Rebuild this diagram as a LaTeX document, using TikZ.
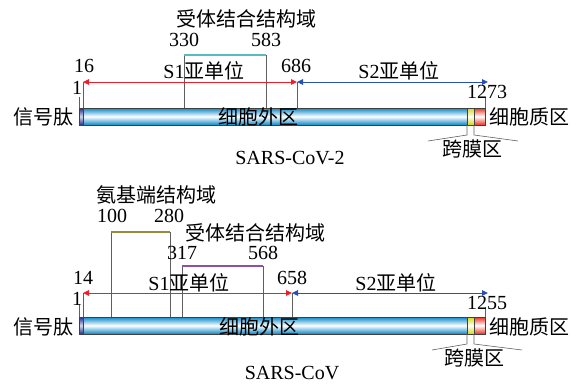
\documentclass[tikz,border=0pt]{standalone}
\usepackage{fontspec}
\setmainfont{Liberation Serif}
\newfontfamily\cjk{Noto Sans CJK SC}
\usetikzlibrary{arrows.meta}
\definecolor{barblue}{RGB}{10,135,200}
\definecolor{spblue}{RGB}{35,45,140}
\definecolor{tmyellow}{RGB}{215,215,10}
\definecolor{cytored}{RGB}{235,50,30}
\definecolor{arred}{RGB}{240,30,45}
\definecolor{arblue}{RGB}{40,80,180}
\definecolor{domteal}{RGB}{90,185,195}
\definecolor{domolive}{RGB}{150,140,60}
\definecolor{dompurple}{RGB}{140,80,170}
\definecolor{tickgray}{RGB}{95,95,95}
\begin{document}
\begin{tikzpicture}[x=1pt,y=-1pt,
  font=\fontsize{20}{24}\selectfont,
  lbl/.style={inner sep=0pt},
  tickline/.style={draw=tickgray, line width=0.7pt},
  segbox/.style={draw=black!75, line width=0.5pt},
  domline/.style={line width=1.1pt},
  arr/.style={line width=1pt, {Triangle[length=6pt,width=5.5pt]}-{Triangle[length=6pt,width=5.5pt]}},
  brk/.style={draw=tickgray, line width=0.6pt}]
\useasboundingbox (0,0) rectangle (583,386);

% ===== SARS-CoV-2 =====
\path[segbox, top color=barblue, bottom color=barblue, middle color=white] (83,108) rectangle (467,125);
\path[segbox, top color=spblue, bottom color=spblue, middle color=white!80!spblue] (79,108) rectangle (83,125);
\path[segbox, top color=tmyellow, bottom color=tmyellow, middle color=white] (467,108) rectangle (474,125);
\path[segbox, top color=cytored, bottom color=cytored, middle color=white] (474,108) rectangle (485,125);

\coordinate (a1t) at (79,97);   \coordinate (a1b) at (79,108);
\coordinate (a16t) at (83,82);  \coordinate (a16b) at (83,108);
\coordinate (a330t) at (184,55); \coordinate (a330b) at (184,108);
\coordinate (a583t) at (266,55); \coordinate (a583b) at (266,108);
\coordinate (a686t) at (297,82); \coordinate (a686b) at (297,108);
\coordinate (aendt) at (485,97); \coordinate (aendb) at (485,108);
\coordinate (as2end) at (488,82);
\coordinate (atmL) at (467,125); \coordinate (atmR) at (474,125);
\coordinate (atmLk) at (467,135); \coordinate (atmRk) at (474,135);
\coordinate (atmLe) at (428,141); \coordinate (atmRe) at (518,141);

\draw[tickline] (a1t) -- (a1b);
\draw[tickline] (a16t) -- (a16b);
\draw[tickline] (a330t) -- (a330b);
\draw[tickline] (a583t) -- (a583b);
\draw[tickline] (a686t) -- (a686b);
\draw[tickline] (aendt) -- (aendb);
\draw[domline, domteal] (a330t) -- (a583t);
\draw[arr, arred] (a16t) -- (a686t);
\draw[arr, arblue] (a686t) -- (as2end);
\draw[brk] (atmL) -- (atmLk) -- (atmLe);
\draw[brk] (atmR) -- (atmRk) -- (atmRe);

\node[lbl] (arbd) at (246,19) {\cjk 受体结合结构域};
\node[lbl] (an330) at (184,40) {330};
\node[lbl] (an583) at (266,40) {583};
\node[lbl] (an16) at (84,66) {16};
\node[lbl] (an1) at (77,88) {1};
\node[lbl] (an686) at (296,66) {686};
\node[lbl] (an1273) at (487,92) {1273};
\node[lbl] (as1) at (204,71) {S1\cjk 亚单位};
\node[lbl] (as2) at (399,71) {S2\cjk 亚单位};
\node[lbl] (asp) at (43,117) {\cjk 信号肽};
\node[lbl] (aext) at (258,117) {\cjk 细胞外区};
\node[lbl] (acyt) at (529,117) {\cjk 细胞质区};
\node[lbl] (atm) at (472,149) {\cjk 跨膜区};
\node[lbl] (aname) at (290,158) {SARS-CoV-2};

% ===== SARS-CoV =====
\path[segbox, top color=barblue, bottom color=barblue, middle color=white] (83,317) rectangle (467,334);
\path[segbox, top color=spblue, bottom color=spblue, middle color=white!80!spblue] (79,317) rectangle (83,334);
\path[segbox, top color=tmyellow, bottom color=tmyellow, middle color=white] (467,317) rectangle (474,334);
\path[segbox, top color=cytored, bottom color=cytored, middle color=white] (474,317) rectangle (485,334);

\coordinate (b1t) at (79,304);   \coordinate (b1b) at (79,317);
\coordinate (b14t) at (83,293);  \coordinate (b14b) at (83,317);
\coordinate (b100t) at (111,232); \coordinate (b100b) at (111,317);
\coordinate (b280t) at (170,232); \coordinate (b280b) at (170,317);
\coordinate (b317t) at (182,266); \coordinate (b317b) at (182,317);
\coordinate (b568t) at (263,266); \coordinate (b568b) at (263,317);
\coordinate (b658t) at (292,293); \coordinate (b658b) at (292,317);
\coordinate (bendt) at (485,307); \coordinate (bendb) at (485,317);
\coordinate (bs2end) at (488,293);
\coordinate (btmL) at (467,334); \coordinate (btmR) at (474,334);
\coordinate (btmLk) at (467,344); \coordinate (btmRk) at (474,344);
\coordinate (btmLe) at (432,350); \coordinate (btmRe) at (522,350);

\draw[tickline] (b1t) -- (b1b);
\draw[tickline] (b14t) -- (b14b);
\draw[tickline] (b100t) -- (b100b);
\draw[tickline] (b280t) -- (b280b);
\draw[tickline] (b317t) -- (b317b);
\draw[tickline] (b568t) -- (b568b);
\draw[tickline] (b658t) -- (b658b);
\draw[tickline] (bendt) -- (bendb);
\draw[domline, domolive] (b100t) -- (b280t);
\draw[domline, dompurple] (b317t) -- (b568t);
\draw[arr, arred] (b14t) -- (b658t);
\draw[arr, arblue] (b658t) -- (bs2end);
\draw[brk] (btmL) -- (btmLk) -- (btmLe);
\draw[brk] (btmR) -- (btmRk) -- (btmRe);

\node[lbl] (bntd) at (156,195) {\cjk 氨基端结构域};
\node[lbl] (bn100) at (112,216) {100};
\node[lbl] (bn280) at (169,216) {280};
\node[lbl] (brbd) at (255,233) {\cjk 受体结合结构域};
\node[lbl] (bn317) at (182,253) {317};
\node[lbl] (bn568) at (263,253) {568};
\node[lbl] (bn14) at (83,278) {14};
\node[lbl] (bn1) at (77,299) {1};
\node[lbl] (bn658) at (292,278) {658};
\node[lbl] (bn1255) at (487,303) {1255};
\node[lbl] (bs1) at (189,283) {S1\cjk 亚单位};
\node[lbl] (bs2) at (396,283) {S2\cjk 亚单位};
\node[lbl] (bsp) at (43,327) {\cjk 信号肽};
\node[lbl] (bext) at (259,327) {\cjk 细胞外区};
\node[lbl] (bcyt) at (529,327) {\cjk 细胞质区};
\node[lbl] (btm) at (474,358) {\cjk 跨膜区};
\node[lbl] (bname) at (292,373) {SARS-CoV};
\end{tikzpicture}
\end{document}
